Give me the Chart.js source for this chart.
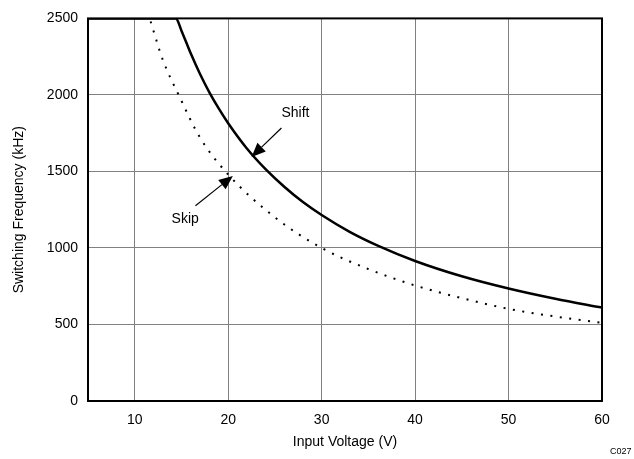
<!DOCTYPE html>
<html>
<head>
<meta charset="utf-8">
<script src="https://cdn.jsdelivr.net/npm/chart.js@4/dist/chart.umd.min.js"></script>
<style>
  html, body { margin: 0; padding: 0; background: #fff; }
  #wrap { width: 634px; height: 459px; }
</style>
</head>
<body>
<div id="wrap"><canvas id="freqChart" width="634" height="459"></canvas></div>
<script>
// input voltage (V) and switching frequency (kHz)
const shiftVolts = [5, 10, 14.4, 15, 16, 17, 18, 19, 20, 22, 24, 26, 28, 30, 33, 36, 40, 45, 50, 55, 60];
const shiftFreq  = [2500, 2500, 2500, 2420, 2270, 2135, 2015, 1910, 1815, 1650, 1515, 1400, 1300, 1215, 1105, 1015, 915, 815, 735, 668, 610];
const skipVolts  = [11.7, 13, 14.7, 17, 20, 25, 30, 35, 40, 45, 50, 55, 60];
const skipFreq   = [2480, 2230, 2000, 1720, 1480, 1200, 1000, 862, 755, 672, 602, 552, 510];
const xTicks = [10, 20, 30, 40, 50, 60];
const yTicks = [0, 500, 1000, 1500, 2000, 2500];

// callouts in data units: label position, arrow tail, arrow head
const callouts = [
  { text: "Shift", at: [27.2, 1880], from: [25.7, 1784], to: [22.5, 1595] },
  { text: "Skip",  at: [15.4, 1190], from: [16.5, 1276], to: [20.5, 1471] }
];

const FONT = "'Liberation Sans', Arial, sans-serif";

const toXY = (xs, ys) => xs.map((x, i) => ({ x: x, y: ys[i] }));

const framePlugin = {
  id: "frame",
  afterDatasetsDraw(chart) {
    const { ctx, chartArea: a, scales } = chart;
    ctx.save();
    ctx.strokeStyle = "#000";
    ctx.lineWidth = 2;
    ctx.strokeRect(a.left, a.top, a.right - a.left, a.bottom - a.top);

    ctx.fillStyle = "#000";
    ctx.font = "14px " + FONT;
    ctx.textAlign = "center";
    ctx.textBaseline = "middle";
    callouts.forEach(c => {
      ctx.fillText(c.text, scales.x.getPixelForValue(c.at[0]), scales.y.getPixelForValue(c.at[1]));
      const x1 = scales.x.getPixelForValue(c.from[0]), y1 = scales.y.getPixelForValue(c.from[1]);
      const x2 = scales.x.getPixelForValue(c.to[0]), y2 = scales.y.getPixelForValue(c.to[1]);
      const ang = Math.atan2(y2 - y1, x2 - x1);
      const len = 14, half = 6;
      const bx = x2 - len * Math.cos(ang), by = y2 - len * Math.sin(ang);
      ctx.lineWidth = 1.2;
      ctx.beginPath();
      ctx.moveTo(x1, y1);
      ctx.lineTo(bx, by);
      ctx.stroke();
      ctx.beginPath();
      ctx.moveTo(x2, y2);
      ctx.lineTo(bx + half * Math.sin(ang), by - half * Math.cos(ang));
      ctx.lineTo(bx - half * Math.sin(ang), by + half * Math.cos(ang));
      ctx.closePath();
      ctx.fill();
    });

    ctx.font = "9px " + FONT;
    ctx.textAlign = "left";
    ctx.fillText("C027", 610, 452);
    ctx.restore();
  }
};

new Chart(document.getElementById("freqChart"), {
  type: "scatter",
  data: {
    datasets: [{
      label: "Shift",
      data: toXY(shiftVolts, shiftFreq),
      showLine: true,
      borderColor: "#000",
      borderWidth: 2.5,
      pointRadius: 0,
      cubicInterpolationMode: "monotone"
    }, {
      label: "Skip",
      data: toXY(skipVolts, skipFreq),
      showLine: true,
      borderColor: "#000",
      borderWidth: 2,
      borderDash: [2, 7.5],
      pointRadius: 0,
      cubicInterpolationMode: "monotone"
    }]
  },
  options: {
    responsive: false,
    animation: false,
    layout: { padding: { left: 0, right: 32, top: 17, bottom: 0 } },
    plugins: {
      legend: { display: false },
      tooltip: { enabled: false }
    },
    scales: {
      x: {
        type: "linear",
        min: 5,
        max: 60,
        afterBuildTicks: s => { s.ticks = xTicks.map(v => ({ value: v })); },
        afterFit: s => { s.height = 58; },
        grid: { color: "#808080", lineWidth: 1, drawTicks: false },
        border: { display: false },
        ticks: { color: "#000", font: { family: FONT, size: 14 }, padding: 11, callback: v => String(v) },
        title: { display: true, text: "Input Voltage (V)", color: "#000", font: { family: FONT, size: 14 }, padding: { top: 0, bottom: 8 } }
      },
      y: {
        min: 0,
        max: 2500,
        afterBuildTicks: s => { s.ticks = yTicks.map(v => ({ value: v })); },
        afterFit: s => { s.width = 88; },
        grid: { color: "#808080", lineWidth: 1, drawTicks: false },
        border: { display: false },
        ticks: { color: "#000", font: { family: FONT, size: 14 }, padding: 10, callback: v => String(v) },
        title: { display: true, text: "Switching Frequency (kHz)", color: "#000", font: { family: FONT, size: 14 }, padding: { top: 11, bottom: 0 } }
      }
    }
  },
  plugins: [framePlugin]
});
</script>
</body>
</html>
